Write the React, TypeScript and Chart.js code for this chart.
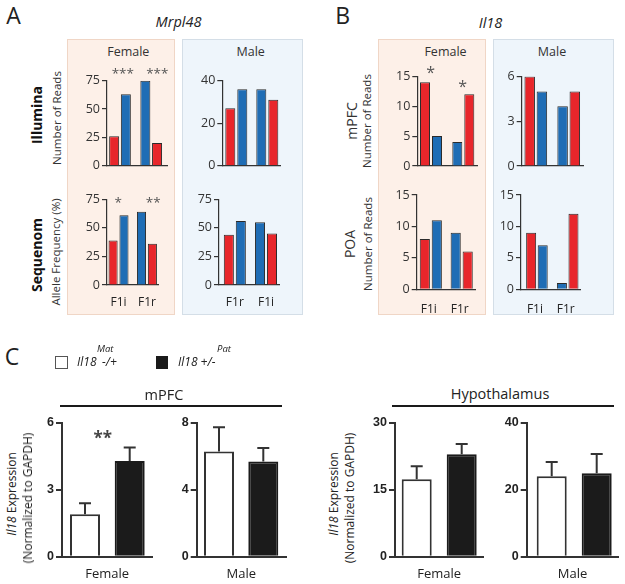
import React, { useEffect, useRef } from "react";
import { Chart, registerables } from "chart.js";

Chart.register(...registerables);

// ---------------- DATA ----------------
const CROSSES = ["F1i", "F1r"];
const CROSSES_MRPL48_SEQUENOM_MALE = ["F1r", "F1i"];
// within each cross group: is the red bar drawn first?
const RED_FIRST = [true, false];

// Panel A – Mrpl48
const MRPL48_ILLUMINA_FEMALE_RED = [26, 20];
const MRPL48_ILLUMINA_FEMALE_BLUE = [63, 75];
const MRPL48_ILLUMINA_MALE_RED = [27, 31];
const MRPL48_ILLUMINA_MALE_BLUE = [36, 36];
const MRPL48_SEQUENOM_FEMALE_RED = [39, 36];
const MRPL48_SEQUENOM_FEMALE_BLUE = [61, 64];
const MRPL48_SEQUENOM_MALE_RED = [44, 45];
const MRPL48_SEQUENOM_MALE_BLUE = [56, 55];

// Panel B – Il18
const IL18_MPFC_FEMALE_RED = [14, 12];
const IL18_MPFC_FEMALE_BLUE = [5, 4];
const IL18_MPFC_MALE_RED = [6, 5];
const IL18_MPFC_MALE_BLUE = [5, 4];
const IL18_POA_FEMALE_RED = [8, 6];
const IL18_POA_FEMALE_BLUE = [11, 9];
const IL18_POA_MALE_RED = [9, 12];
const IL18_POA_MALE_BLUE = [7, 1];

const TICKS_75 = [0, 25, 50, 75];
const TICKS_40 = [0, 20, 40];
const TICKS_15 = [0, 5, 10, 15];
const TICKS_6 = [0, 3, 6];

// Panel C – Il18 expression (normalized to GAPDH), mean and SEM
const SEXES = ["Female", "Male"];
const GENOTYPES = ["Il18 Mat -/+", "Il18 +/- Pat"];
const MPFC_MAT_MEAN = [1.9, 6.3];
const MPFC_MAT_SEM = [0.5, 1.45];
const MPFC_PAT_MEAN = [4.3, 5.7];
const MPFC_PAT_SEM = [0.6, 0.8];
const HYPO_MAT_MEAN = [17.4, 24.1];
const HYPO_MAT_SEM = [2.9, 4.2];
const HYPO_PAT_MEAN = [23.0, 25.0];
const HYPO_PAT_SEM = [2.3, 5.7];
const MPFC_TICKS = [[0, 3, 6], [0, 4, 8]];
const HYPO_TICKS = [[0, 15, 30], [0, 20, 40]];

// ---------------- STYLE ----------------
const FONT = "'Open Sans', 'Noto Sans', sans-serif";
const ARIAL = "'Liberation Sans', Arial, sans-serif";
const RED = "#e8262b";
const BLUE = "#1f6db5";
const EDGE = "#2b2b2b";
const AXIS = "#333333";
const TXT = "#222222";
const STAR = "#555555";
const F_BG = "#fdf0e8";
const F_BORDER = "#f0d6c6";
const M_BG = "#eef5fb";
const M_BORDER = "#d4dee7";

type Fit = { yW: number; padTop: number; padRight: number; xH: number };
type Area = { l: number; t: number; r: number; b: number };
type Pad = { left: number; top: number; right: number; bottom: number };

function ChartBox({ area, pad, make }: { area: Area; pad: Pad; make: (fit: Fit) => any }) {
  const ref = useRef<HTMLCanvasElement | null>(null);
  const cl = Math.floor(area.l - pad.left);
  const ct = Math.floor(area.t - pad.top);
  const cr = Math.ceil(area.r + pad.right);
  const cb = Math.ceil(area.b + pad.bottom);
  const w = cr - cl;
  const h = cb - ct;
  useEffect(() => {
    if (!ref.current) return;
    const chart = new Chart(
      ref.current,
      make({ yW: area.l - cl, padTop: area.t - ct, padRight: cr - area.r, xH: cb - area.b })
    );
    return () => chart.destroy();
  }, []);
  return (
    <canvas
      ref={ref}
      width={w}
      height={h}
      style={{ position: "absolute", left: cl, top: ct, width: w, height: h }}
    />
  );
}

function yAxis(ticks: number[], fit: Fit, o: { tickLen: number; lw: number; font: any; color: string }) {
  return {
    type: "linear",
    min: 0,
    max: ticks[ticks.length - 1],
    bounds: "data",
    z: 1,
    afterBuildTicks: (s: any) => {
      s.ticks = ticks.map((v) => ({ value: v }));
    },
    afterFit: (s: any) => {
      s.width = fit.yW;
    },
    grid: {
      display: true,
      drawOnChartArea: false,
      drawTicks: true,
      tickLength: o.tickLen,
      color: AXIS,
      lineWidth: o.lw,
    },
    border: { display: true, color: AXIS, width: o.lw },
    ticks: { font: o.font, color: o.color, padding: 2, autoSkip: false },
  };
}

type AlleleSpec = Area & { c1: number; c2: number; barW: number; gap: number; labelY?: number };

function alleleConfig(
  spec: AlleleSpec,
  red: number[],
  blue: number[],
  ticks: number[],
  labels: string[] | null,
  fit: Fit
) {
  const D = spec.c2 - spec.c1;
  const chunk = spec.barW + spec.gap;
  const cat = (2 * chunk) / D;
  const barPct = spec.barW / chunk;
  const first = red.map((r, i) => (RED_FIRST[i] ? r : blue[i]));
  const second = red.map((r, i) => (RED_FIRST[i] ? blue[i] : r));
  const mk = (label: string, vals: number[], colors: string[]) => ({
    label,
    data: vals.map((v, i) => ({ x: i, y: v })),
    backgroundColor: colors,
    borderColor: EDGE,
    borderWidth: 1,
    categoryPercentage: cat,
    barPercentage: barPct,
  });
  const lh = 12 * 1.2;
  const labelPad = labels && spec.labelY ? spec.labelY + 0.8 - spec.b - lh / 2 : 4;
  return {
    type: "bar",
    data: {
      datasets: [
        mk("first bar", first, RED_FIRST.map((f) => (f ? RED : BLUE))),
        mk("second bar", second, RED_FIRST.map((f) => (f ? BLUE : RED))),
      ],
    },
    options: {
      animation: false,
      responsive: false,
      devicePixelRatio: 1,
      layout: { autoPadding: false, padding: { left: 0, top: fit.padTop, right: fit.padRight, bottom: 0 } },
      plugins: { legend: { display: false }, tooltip: { enabled: false }, title: { display: false } },
      scales: {
        x: {
          type: "linear",
          bounds: "data",
          offset: false,
          min: (spec.l - spec.c1) / D,
          max: 1 + (spec.r - spec.c2) / D,
          z: 1,
          afterBuildTicks: (s: any) => {
            s.ticks = [{ value: 0 }, { value: 1 }];
          },
          afterFit: (s: any) => {
            s.height = fit.xH;
          },
          grid: { display: false, drawTicks: false, offset: false },
          border: { display: true, color: AXIS, width: 1.2 },
          ticks: {
            display: !!labels,
            autoSkip: false,
            maxRotation: 0,
            padding: labelPad,
            labelOffset: spec.l > 300 ? -2 : 0,
            font: { family: FONT, size: 12 },
            color: TXT,
            callback: (_v: any, i: number) => (labels ? labels[i] : ""),
          },
        },
        y: yAxis(ticks, fit, { tickLen: 5, lw: 1.2, font: { family: FONT, size: 12.5 }, color: "#333" }),
      },
    },
  };
}

const errorBars = {
  id: "errorBars",
  afterDatasetsDraw(chart: any) {
    const ctx = chart.ctx;
    const y = chart.scales.y;
    chart.data.datasets.forEach((ds: any, di: number) => {
      const meta = chart.getDatasetMeta(di);
      meta.data.forEach((el: any, i: number) => {
        const v = ds.data[i].y;
        const e = ds.errors[i];
        const top = y.getPixelForValue(v + e);
        ctx.save();
        ctx.strokeStyle = "#333";
        ctx.lineWidth = 2;
        ctx.beginPath();
        ctx.moveTo(el.x, el.y);
        ctx.lineTo(el.x, top);
        ctx.moveTo(el.x - 6, top);
        ctx.lineTo(el.x + 6, top);
        ctx.stroke();
        ctx.restore();
      });
    });
  },
};

type ExprSpec = Area & { b1: number; b2: number; barW: number; titleY: number };

function exprConfig(
  spec: ExprSpec,
  sexIdx: number,
  matMean: number[],
  matSem: number[],
  patMean: number[],
  patSem: number[],
  ticks: number[],
  fit: Fit
) {
  const D = spec.b2 - spec.b1;
  const lh = 13 * 1.2;
  const mk = (label: string, x: number, mean: number, sem: number, bg: string, bc: string) => ({
    label,
    data: [{ x, y: mean }],
    errors: [sem],
    backgroundColor: bg,
    borderColor: bc,
    borderWidth: 2,
    grouped: false,
    categoryPercentage: 1,
    barPercentage: spec.barW / D,
  });
  return {
    type: "bar",
    data: {
      datasets: [
        mk(GENOTYPES[0], 0, matMean[sexIdx], matSem[sexIdx], "#ffffff", "#333333"),
        mk(GENOTYPES[1], 1, patMean[sexIdx], patSem[sexIdx], "#1b1b1b", "#1b1b1b"),
      ],
    },
    plugins: [errorBars],
    options: {
      animation: false,
      responsive: false,
      devicePixelRatio: 1,
      layout: { autoPadding: false, padding: { left: 0, top: fit.padTop, right: fit.padRight, bottom: 0 } },
      plugins: { legend: { display: false }, tooltip: { enabled: false }, title: { display: false } },
      scales: {
        x: {
          type: "linear",
          bounds: "data",
          offset: false,
          min: (spec.l - spec.b1) / D,
          max: 1 + (spec.r - spec.b2) / D,
          z: 1,
          afterBuildTicks: (s: any) => {
            s.ticks = [{ value: 0 }, { value: 1 }];
          },
          afterFit: (s: any) => {
            s.height = fit.xH;
          },
          grid: { display: false, drawTicks: false, offset: false },
          border: { display: true, color: AXIS, width: 2 },
          ticks: { display: false },
          title: {
            display: true,
            text: SEXES[sexIdx],
            font: { family: FONT, size: 13 },
            color: TXT,
            padding: { top: 0, bottom: spec.b + fit.xH - lh / 2 - (spec.titleY + 0.9) },
          },
        },
        y: yAxis(ticks, fit, {
          tickLen: 6,
          lw: 2,
          font: { family: ARIAL, size: 12.5, weight: "bold" },
          color: TXT,
        }),
      },
    },
  };
}

// ---------------- LAYOUT ----------------
const A_ILL_F: AlleleSpec = { l: 107, t: 80.7, r: 167, b: 165.7, c1: 120, c2: 151.2, barW: 10, gap: 1.7 };
const A_ILL_M: AlleleSpec = { l: 222.3, t: 80.7, r: 280.7, b: 165.7, c1: 236.3, c2: 267.3, barW: 10, gap: 2 };
const A_SEQ_F: AlleleSpec = { l: 107, t: 199.3, r: 163.5, b: 285, c1: 119.7, c2: 151, barW: 10, gap: 2, labelY: 301.7 };
const A_SEQ_M: AlleleSpec = { l: 219, t: 199.3, r: 282, b: 285, c1: 235.5, c2: 268, barW: 10.5, gap: 2, labelY: 301.7 };
const B_MPFC_F: AlleleSpec = { l: 417.3, t: 76.3, r: 477, b: 166, c1: 431, c2: 463.3, barW: 10, gap: 2 };
const B_MPFC_M: AlleleSpec = { l: 521.7, t: 76.5, r: 583, b: 166, c1: 535.8, c2: 568.7, barW: 10.5, gap: 1.7 };
const B_POA_F: AlleleSpec = { l: 416.7, t: 195, r: 481, b: 289.3, c1: 432, c2: 465.5, barW: 11, gap: 2, labelY: 308.3 };
const B_POA_M: AlleleSpec = { l: 521, t: 195, r: 586.7, b: 289.3, c1: 538.5, c2: 572.3, barW: 11, gap: 1.7, labelY: 308.3 };

const C_MPFC_F: ExprSpec = { l: 62, t: 423, r: 152.3, b: 556.7, b1: 85, b2: 129.7, barW: 30, titleY: 573 };
const C_MPFC_M: ExprSpec = { l: 196.7, t: 423, r: 286, b: 556.7, b1: 219, b2: 263.3, barW: 30, titleY: 573 };
const C_HYPO_F: ExprSpec = { l: 395, t: 423, r: 483.3, b: 556.7, b1: 416.7, b2: 461.7, barW: 30, titleY: 573 };
const C_HYPO_M: ExprSpec = { l: 526.7, t: 423, r: 618.3, b: 556.7, b1: 551.7, b2: 596.7, barW: 30, titleY: 573 };

const PAD_TOP_ROW: Pad = { left: 30, top: 10, right: 3, bottom: 10 };
const PAD_BOTTOM_ROW: Pad = { left: 30, top: 10, right: 3, bottom: 30 };
const PAD_C: Pad = { left: 28, top: 10, right: 3, bottom: 25 };

function Txt(p: {
  x: number;
  y: number;
  size: number;
  children: React.ReactNode;
  weight?: number;
  italic?: boolean;
  color?: string;
  rot?: boolean;
  start?: boolean;
  family?: string;
  dy?: number;
}) {
  const tx = p.start ? "0" : "-50%";
  const ty = `${p.dy ?? -50}%`;
  return (
    <div
      style={{
        position: "absolute",
        left: p.x,
        top: p.y,
        transform: `translate(${tx}, ${ty})${p.rot ? " rotate(-90deg)" : ""}`,
        fontFamily: p.family ?? FONT,
        fontSize: p.size,
        fontWeight: p.weight ?? 400,
        fontStyle: p.italic ? "italic" : "normal",
        color: p.color ?? TXT,
        lineHeight: 1,
        whiteSpace: "nowrap",
      }}
    >
      {p.children}
    </div>
  );
}

function Panel({ x, y, w, h, bg, border }: { x: number; y: number; w: number; h: number; bg: string; border: string }) {
  return (
    <div
      style={{
        position: "absolute",
        left: x,
        top: y,
        width: w,
        height: h,
        background: bg,
        border: `1px solid ${border}`,
        boxSizing: "border-box",
      }}
    />
  );
}

export default function App() {
  return (
    <div
      style={{
        position: "absolute",
        left: 0,
        top: 0,
        width: 625,
        height: 584,
        background: "#ffffff",
        overflow: "hidden",
      }}
    >
      {/* background panels */}
      <Panel x={67} y={39} w={108} h={275.5} bg={F_BG} border={F_BORDER} />
      <Panel x={182} y={39} w={120.5} h={275.5} bg={M_BG} border={M_BORDER} />
      <Panel x={378} y={39} w={108} h={275.5} bg={F_BG} border={F_BORDER} />
      <Panel x={493} y={39} w={120.5} h={275.5} bg={M_BG} border={M_BORDER} />

      {/* Panel A charts */}
      <ChartBox area={A_ILL_F} pad={PAD_TOP_ROW} make={(f) => alleleConfig(A_ILL_F, MRPL48_ILLUMINA_FEMALE_RED, MRPL48_ILLUMINA_FEMALE_BLUE, TICKS_75, null, f)} />
      <ChartBox area={A_ILL_M} pad={PAD_TOP_ROW} make={(f) => alleleConfig(A_ILL_M, MRPL48_ILLUMINA_MALE_RED, MRPL48_ILLUMINA_MALE_BLUE, TICKS_40, null, f)} />
      <ChartBox area={A_SEQ_F} pad={PAD_BOTTOM_ROW} make={(f) => alleleConfig(A_SEQ_F, MRPL48_SEQUENOM_FEMALE_RED, MRPL48_SEQUENOM_FEMALE_BLUE, TICKS_75, CROSSES, f)} />
      <ChartBox area={A_SEQ_M} pad={PAD_BOTTOM_ROW} make={(f) => alleleConfig(A_SEQ_M, MRPL48_SEQUENOM_MALE_RED, MRPL48_SEQUENOM_MALE_BLUE, TICKS_75, CROSSES_MRPL48_SEQUENOM_MALE, f)} />

      {/* Panel B charts */}
      <ChartBox area={B_MPFC_F} pad={PAD_TOP_ROW} make={(f) => alleleConfig(B_MPFC_F, IL18_MPFC_FEMALE_RED, IL18_MPFC_FEMALE_BLUE, TICKS_15, null, f)} />
      <ChartBox area={B_MPFC_M} pad={PAD_TOP_ROW} make={(f) => alleleConfig(B_MPFC_M, IL18_MPFC_MALE_RED, IL18_MPFC_MALE_BLUE, TICKS_6, null, f)} />
      <ChartBox area={B_POA_F} pad={PAD_BOTTOM_ROW} make={(f) => alleleConfig(B_POA_F, IL18_POA_FEMALE_RED, IL18_POA_FEMALE_BLUE, TICKS_15, CROSSES, f)} />
      <ChartBox area={B_POA_M} pad={PAD_BOTTOM_ROW} make={(f) => alleleConfig(B_POA_M, IL18_POA_MALE_RED, IL18_POA_MALE_BLUE, TICKS_15, CROSSES, f)} />

      {/* Panel C charts */}
      <ChartBox area={C_MPFC_F} pad={PAD_C} make={(f) => exprConfig(C_MPFC_F, 0, MPFC_MAT_MEAN, MPFC_MAT_SEM, MPFC_PAT_MEAN, MPFC_PAT_SEM, MPFC_TICKS[0], f)} />
      <ChartBox area={C_MPFC_M} pad={PAD_C} make={(f) => exprConfig(C_MPFC_M, 1, MPFC_MAT_MEAN, MPFC_MAT_SEM, MPFC_PAT_MEAN, MPFC_PAT_SEM, MPFC_TICKS[1], f)} />
      <ChartBox area={C_HYPO_F} pad={PAD_C} make={(f) => exprConfig(C_HYPO_F, 0, HYPO_MAT_MEAN, HYPO_MAT_SEM, HYPO_PAT_MEAN, HYPO_PAT_SEM, HYPO_TICKS[0], f)} />
      <ChartBox area={C_HYPO_M} pad={PAD_C} make={(f) => exprConfig(C_HYPO_M, 1, HYPO_MAT_MEAN, HYPO_MAT_SEM, HYPO_PAT_MEAN, HYPO_PAT_SEM, HYPO_TICKS[1], f)} />

      {/* panel letters */}
      <Txt x={13.5} y={15} size={23}>A</Txt>
      <Txt x={342.7} y={15.3} size={23}>B</Txt>
      <Txt x={12} y={356} size={23}>C</Txt>

      {/* gene titles */}
      <Txt x={178.5} y={21.5} size={14.5} italic>Mrpl48</Txt>
      <Txt x={490.5} y={22.5} size={14.5} italic>Il18</Txt>

      {/* sex headers */}
      <Txt x={128.3} y={51.5} size={12.5} color="#333">Female</Txt>
      <Txt x={250.7} y={51.5} size={12.5} color="#333">Male</Txt>
      <Txt x={445.5} y={52.3} size={12.5} color="#333">Female</Txt>
      <Txt x={552} y={52.3} size={12.5} color="#333">Male</Txt>

      {/* y labels A */}
      <Txt x={37.3} y={115} size={14} weight={700} rot color="#111">Illumina</Txt>
      <Txt x={56.7} y={118} size={11.5} rot color="#333">Number of Reads</Txt>
      <Txt x={37} y={255} size={14} weight={700} rot color="#111">Sequenom</Txt>
      <Txt x={55.8} y={252} size={11.5} rot color="#333">Allele Frequency (%)</Txt>

      {/* y labels B */}
      <Txt x={351.5} y={121} size={14} rot color="#333">mPFC</Txt>
      <Txt x={367} y={121} size={11.5} rot color="#333">Number of Reads</Txt>
      <Txt x={350} y={244} size={14} rot color="#333">POA</Txt>
      <Txt x={368.3} y={244} size={11.5} rot color="#333">Number of Reads</Txt>

      {/* significance stars */}
      <Txt x={122.8} y={71} size={13.5} dy={-33} color={STAR}>***</Txt>
      <Txt x={157.3} y={71} size={13.5} dy={-33} color={STAR}>***</Txt>
      <Txt x={118.3} y={200} size={13.5} dy={-33} color={STAR}>*</Txt>
      <Txt x={153.3} y={200} size={13.5} dy={-33} color={STAR}>**</Txt>
      <Txt x={430.7} y={69} size={16} dy={-33} color={STAR}>*</Txt>
      <Txt x={462.7} y={83} size={16} dy={-33} color={STAR}>*</Txt>
      <Txt x={102.8} y={434.5} size={17} weight={700} dy={-33} color="#444">**</Txt>

      {/* legend C */}
      <div
        style={{
          position: "absolute",
          left: 55,
          top: 355.5,
          width: 13,
          height: 13.5,
          border: "1.5px solid #555",
          boxSizing: "border-box",
          background: "#fff",
        }}
      />
      <Txt x={77} y={362} size={12} italic start>Il18</Txt>
      <Txt x={97} y={349} size={9.5} italic start>Mat</Txt>
      <Txt x={102} y={362} size={12} italic start>-/+</Txt>
      <div
        style={{ position: "absolute", left: 155.7, top: 356, width: 12.7, height: 12.5, background: "#1a1a1a" }}
      />
      <Txt x={178} y={362} size={12} italic start>Il18 +/-</Txt>
      <Txt x={217} y={349} size={9.5} italic start>Pat</Txt>

      {/* C region headers */}
      <Txt x={164} y={395} size={14.5}>mPFC</Txt>
      <div style={{ position: "absolute", left: 60, top: 405, width: 222, height: 2, background: "#1a1a1a" }} />
      <Txt x={500} y={393.5} size={14.5}>Hypothalamus</Txt>
      <div style={{ position: "absolute", left: 392, top: 405, width: 221.5, height: 2, background: "#1a1a1a" }} />

      {/* C y labels */}
      <Txt x={11.8} y={494} size={12} rot>
        <i>Il18</i> Expression
      </Txt>
      <Txt x={27.8} y={498} size={12} rot>(Normalized to GAPDH)</Txt>
      <Txt x={333.5} y={494} size={12} rot>
        <i>Il18</i> Expression
      </Txt>
      <Txt x={349.5} y={498} size={12} rot>(Normalized to GAPDH)</Txt>
    </div>
  );
}
